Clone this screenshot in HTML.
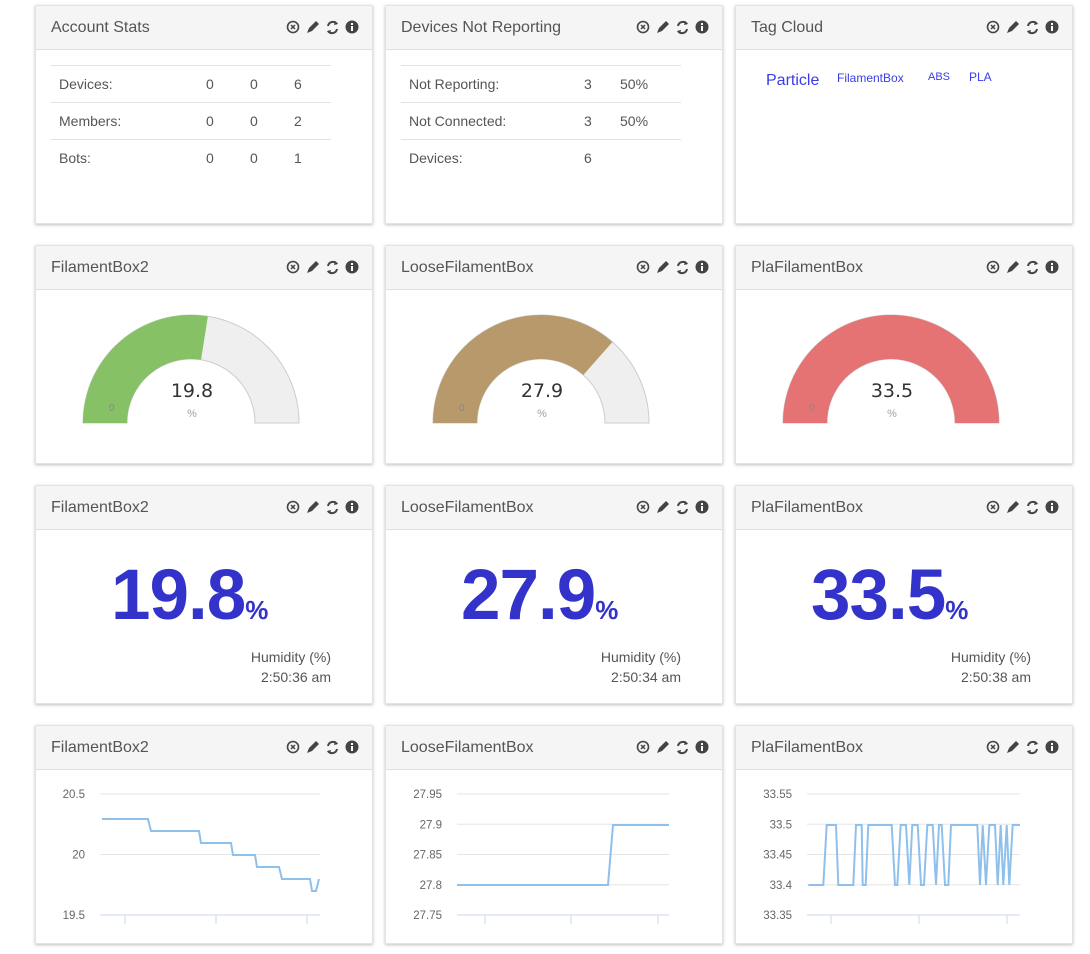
<!DOCTYPE html>
<html><head><meta charset="utf-8"><style>
body{margin:0;width:1090px;height:954px;background:#fff;font-family:"Liberation Sans",sans-serif;position:relative;overflow:hidden}
.p{position:absolute;width:338px;height:219px;background:#fff;border:1px solid #e3e3e3;box-shadow:0 1px 3px rgba(0,0,0,.25);box-sizing:border-box}
.h{height:43px;background:#f5f5f5;border-bottom:1px solid #e0e0e0;position:relative}
.t{position:absolute;left:15px;top:13px;font-size:16px;color:#555}
.ic{position:absolute;left:250px;top:12px}
.a{position:absolute;font-size:14px;color:#555}
.ln{position:absolute;height:1px;background:#e2e2e2}
</style></head><body>
<script>
var X=[35,385,735],Y=[5,245,485,725];
var titles=[["Account Stats","Devices Not Reporting","Tag Cloud"],["FilamentBox2","LooseFilamentBox","PlaFilamentBox"],["FilamentBox2","LooseFilamentBox","PlaFilamentBox"],["FilamentBox2","LooseFilamentBox","PlaFilamentBox"]];
var icons='<svg width="80" height="20" viewBox="0 0 80 20"><circle cx="7" cy="9" r="5.5" fill="none" stroke="#444" stroke-width="1.6"/><path d="M5 7l4 4M9 7l-4 4" stroke="#444" stroke-width="1.5"/><path d="M21 15l2-5 7-7 3 3-7 7z" fill="#444"/><path d="M42 8a5 5 0 0 1 9-2M51 11a5 5 0 0 1-9 2" fill="none" stroke="#444" stroke-width="2"/><path d="M49 3l3 3-4 1zM44 16l-3-3 4-1z" fill="#444"/><circle cx="66" cy="9" r="6.5" fill="#444"/><rect x="65" y="8" width="2" height="5" fill="#fff"/><rect x="65" y="5" width="2" height="2" fill="#fff"/></svg>';
var h='';
for(var r=0;r<4;r++)for(var c=0;c<3;c++){h+='<div class="p" style="left:'+X[c]+'px;top:'+Y[r]+'px"><div class="h"><span class="t">'+titles[r][c]+'</span><span class="ic">'+icons+'</span></div></div>';}
function a(x,y,t,s){return '<div class="a" style="left:'+x+'px;top:'+y+'px;'+(s||'')+'">'+t+'</div>';}
function ln(x,y,w){return '<div class="ln" style="left:'+x+'px;top:'+y+'px;width:'+w+'px"></div>';}
[65,102,139].forEach(function(y){h+=ln(51,y,280)+ln(401,y,280);});
[["Devices:",0,0,6],["Members:",0,0,2],["Bots:",0,0,1]].forEach(function(d,i){var y=76+37*i;h+=a(59,y,d[0])+a(206,y,d[1])+a(250,y,d[2])+a(294,y,d[3]);});
[["Not Reporting:",3,"50%"],["Not Connected:",3,"50%"],["Devices:",6,""]].forEach(function(d,i){var y=76+37*i;h+=a(409,y,d[0])+a(584,y,d[1])+a(620,y,d[2]);});
h+=a(766,72,"Particle","font-size:16px;color:#3b3be8")+a(837,71,"FilamentBox","font-size:12px;color:#3b3be8")+a(928,71,"ABS","font-size:11px;color:#3b3be8")+a(969,70,"PLA","font-size:12px;color:#3b3be8");
function gauge(cx,col,frac,val){var cy=423,R=108,ri=64;var ang=Math.PI*(1-frac);
var ox=cx+R*Math.cos(ang),oy=cy-R*Math.sin(ang),ix=cx+ri*Math.cos(ang),iy=cy-ri*Math.sin(ang);
var s='<svg style="position:absolute;left:0;top:0" width="1090" height="954">';
s+='<path d="M'+(cx-R)+' '+cy+'A'+R+' '+R+' 0 0 1 '+(cx+R)+' '+cy+'L'+(cx+ri)+' '+cy+'A'+ri+' '+ri+' 0 0 0 '+(cx-ri)+' '+cy+'Z" fill="#efefef" stroke="#ccc"/>';
s+='<path d="M'+(cx-R)+' '+cy+'A'+R+' '+R+' 0 0 1 '+ox+' '+oy+'L'+ix+' '+iy+'A'+ri+' '+ri+' 0 0 0 '+(cx-ri)+' '+cy+'Z" fill="'+col+'"/>';
s+='<text x="'+(cx-82)+'" y="411" font-size="10" fill="#888" font-family="Liberation Sans">0</text>';
s+='<text x="'+(cx+1)+'" y="397" font-size="19" fill="#333" text-anchor="middle" font-family="DejaVu Sans">'+val+'</text>';
s+='<text x="'+(cx+1)+'" y="417" font-size="11" fill="#bbb" text-anchor="middle" font-weight="bold" font-family="Liberation Sans">%</text></svg>';return s;}
h+=gauge(191,"#86c166",0.55,"19.8")+gauge(541,"#b8996b",0.73,"27.9")+gauge(891,"#e57373",1,"33.5");
[["19.8","2:50:36 am"],["27.9","2:50:34 am"],["33.5","2:50:38 am"]].forEach(function(d,i){var x=X[i];
h+='<div style="position:absolute;left:'+(x+76)+'px;top:555px;font-size:71px;font-weight:bold;color:#3333cc;letter-spacing:-1px">'+d[0]+'<span style="font-size:26px;letter-spacing:0">%</span></div>';
h+='<div class="a" style="left:'+(x+100)+'px;top:647px;width:196px;text-align:right;line-height:20px">Humidity (%)<br>'+d[1]+'</div>';});
function chart(x0,x1,labels,ticks,pts){var s='<svg style="position:absolute;left:0;top:0" width="1090" height="954" font-family="Liberation Sans">';
labels.forEach(function(l,i){var y=794+30.25*(4/(labels.length-1))*i;s+='<line x1="'+x0+'" x2="'+x1+'" y1="'+y+'" y2="'+y+'" stroke="'+(i==labels.length-1?'#ccd6eb':'#e6e6e6')+'"/><text x="'+(x0-15)+'" y="'+(y+4)+'" font-size="11.5" fill="#666" text-anchor="end">'+l+'</text>';});
ticks.forEach(function(t){s+='<line x1="'+t+'" x2="'+t+'" y1="915" y2="924" stroke="#ccd6eb"/>';});
s+='<polyline fill="none" stroke="#8fc0ec" stroke-width="2" points="'+pts+'"/></svg>';return s;}
h+=chart(100,320,["20.5","20","19.5"],[125,216,307],"102,819 148,819 151,831 199,831 201,843 231,843 233,855 255,855 257,867 279,867 282,879 310,879 312,891 316,891 319,879");
h+=chart(457,669,["27.95","27.9","27.85","27.8","27.75"],[485,571,658],"457,885 608,885 613,825 669,825");
var z=[[205,0],[250,0],[260,1],[288,1],[295,0],[340,0],[348,1],[365,1],[368,0],[377,0],[385,1],[455,1],[465,0],[472,0],[482,1],[498,1],[508,0],[517,1],[533,1],[543,0],[552,0],[562,1],[578,1],[588,0],[597,1],[605,1],[615,0],[625,0],[633,1],[712,1],[720,0],[728,1],[738,0],[748,1],[765,1],[773,0],[782,1],[790,0],[800,1],[808,0],[818,1],[840,1]];
h+=chart(807,1020,["33.55","33.5","33.45","33.4","33.35"],[831,919,1007],z.map(function(p){return (740+p[0]/3).toFixed(1)+','+(p[1]?825:885);}).join(' '));
document.write(h);
</script>
</body></html>
